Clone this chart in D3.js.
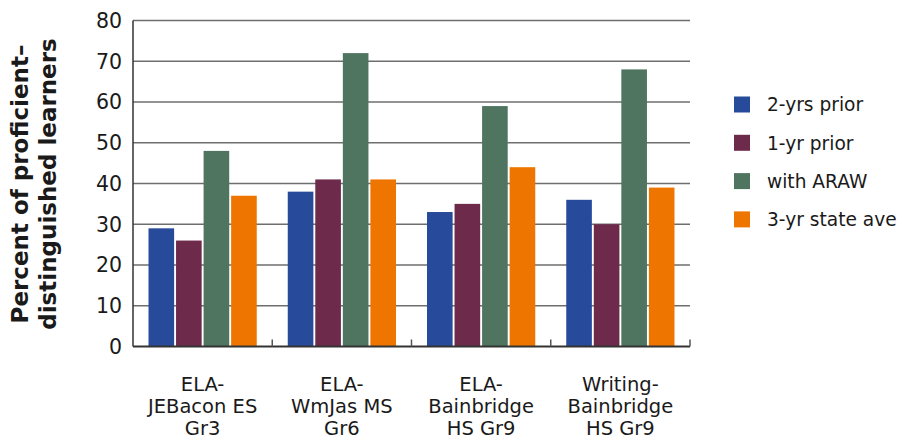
<!DOCTYPE html>
<html>
<head>
<meta charset="utf-8">
<script src="https://cdn.jsdelivr.net/npm/d3@7/dist/d3.min.js"></script>
<style>
  html, body { margin: 0; padding: 0; background: #fff; }
  svg { display: block; }
  text { font-family: "DejaVu Sans", "Noto Sans", sans-serif; fill: #1a1a1a; }
</style>
</head>
<body>
<svg id="chart" width="898" height="439"></svg>
<script>
// School groups along the x axis (each label is split into lines)
const categories = [
  ["ELA-", "JEBacon ES", "Gr3"],
  ["ELA-", "WmJas MS", "Gr6"],
  ["ELA-", "Bainbridge", "HS Gr9"],
  ["Writing-", "Bainbridge", "HS Gr9"]
];
const seriesNames = ["2-yrs prior", "1-yr prior", "with ARAW", "3-yr state ave"];
const seriesColors = ["#284A9B", "#6E2A4B", "#4F7560", "#EE7600"];

// Percent of proficient–distinguished learners, one array per series
const twoYrsPrior = [29, 38, 33, 36];
const oneYrPrior  = [26, 41, 35, 30];
const withARAW    = [48, 72, 59, 68];
const stateAve    = [37, 41, 44, 39];
const seriesValues = [twoYrsPrior, oneYrPrior, withARAW, stateAve];

const yTicks = [0, 10, 20, 30, 40, 50, 60, 70, 80];

const svg = d3.select("#chart");
const plotLeft = 133, plotRight = 690, plotTop = 20.5, plotBottom = 346.5;

const x0 = d3.scaleBand().domain(d3.range(categories.length)).range([plotLeft, plotRight]);
const groupPad = 15.5;
const x1 = d3.scaleBand().domain(d3.range(seriesNames.length))
  .range([groupPad, x0.bandwidth() - groupPad]).paddingInner(0.07);
const y = d3.scaleLinear().domain([0, 80]).range([plotBottom, plotTop]);

// horizontal gridlines
svg.append("g").selectAll("line").data(yTicks.filter(d => d > 0)).join("line")
  .attr("x1", plotLeft).attr("x2", plotRight)
  .attr("y1", d => y(d)).attr("y2", d => y(d))
  .attr("stroke", "#6e6e6e").attr("stroke-width", 1.5);

// y tick labels
svg.append("g").selectAll("text").data(yTicks).join("text")
  .attr("x", 122).attr("y", d => y(d))
  .attr("dy", "0.36em").attr("text-anchor", "end")
  .attr("font-size", 20.5).text(d => d);

// bars
const groups = svg.append("g").selectAll("g").data(categories).join("g")
  .attr("transform", (d, i) => `translate(${x0(i)},0)`);
groups.selectAll("rect")
  .data((d, i) => seriesValues.map((vals, s) => ({ s, v: vals[i] })))
  .join("rect")
  .attr("x", d => x1(d.s)).attr("width", x1.bandwidth())
  .attr("y", d => y(d.v)).attr("height", d => y(0) - y(d.v))
  .attr("fill", d => seriesColors[d.s]);

// axis lines
svg.append("line").attr("x1", plotLeft).attr("x2", plotLeft).attr("y1", plotTop).attr("y2", plotBottom)
  .attr("stroke", "#333").attr("stroke-width", 1.5);
svg.append("line").attr("x1", plotLeft).attr("x2", plotRight).attr("y1", plotBottom).attr("y2", plotBottom)
  .attr("stroke", "#333").attr("stroke-width", 2);

// category separator ticks pointing up from the baseline
const sepX = d3.range(1, categories.length + 1).map(i => i === categories.length ? plotRight : x0(i));
svg.append("g").selectAll("line").data(sepX).join("line")
  .attr("x1", d => d).attr("x2", d => d)
  .attr("y1", plotBottom).attr("y2", plotBottom - 7)
  .attr("stroke", "#555").attr("stroke-width", 1.5);

// category labels
const catLabels = svg.append("g").selectAll("text").data(categories).join("text")
  .attr("text-anchor", "middle").attr("font-size", 19.5);
catLabels.selectAll("tspan").data((d, i) => d.map(line => ({ line, i }))).join("tspan")
  .attr("x", d => x0(d.i) + x0.bandwidth() / 2)
  .attr("y", (d, j) => 390.5 + j * 22)
  .text(d => d.line);

// y axis title (two lines)
const yTitle = svg.append("text")
  .attr("transform", "translate(0,184) rotate(-90)")
  .attr("text-anchor", "middle").attr("font-size", 23).attr("font-weight", 700);
yTitle.append("tspan").attr("x", 0).attr("y", 28).text("Percent of proficient–");
yTitle.append("tspan").attr("x", 0).attr("y", 56).text("distinguished learners");

// legend
const legend = svg.append("g").selectAll("g").data(seriesNames).join("g")
  .attr("transform", (d, i) => `translate(734,${104.5 + i * 38.3})`);
legend.append("rect").attr("x", 0).attr("y", -8).attr("width", 16).attr("height", 16)
  .attr("fill", (d, i) => seriesColors[i]);
legend.append("text").attr("x", 33).attr("y", 0).attr("dy", "0.36em")
  .attr("font-size", 18.6).text(d => d);
</script>
</body>
</html>
